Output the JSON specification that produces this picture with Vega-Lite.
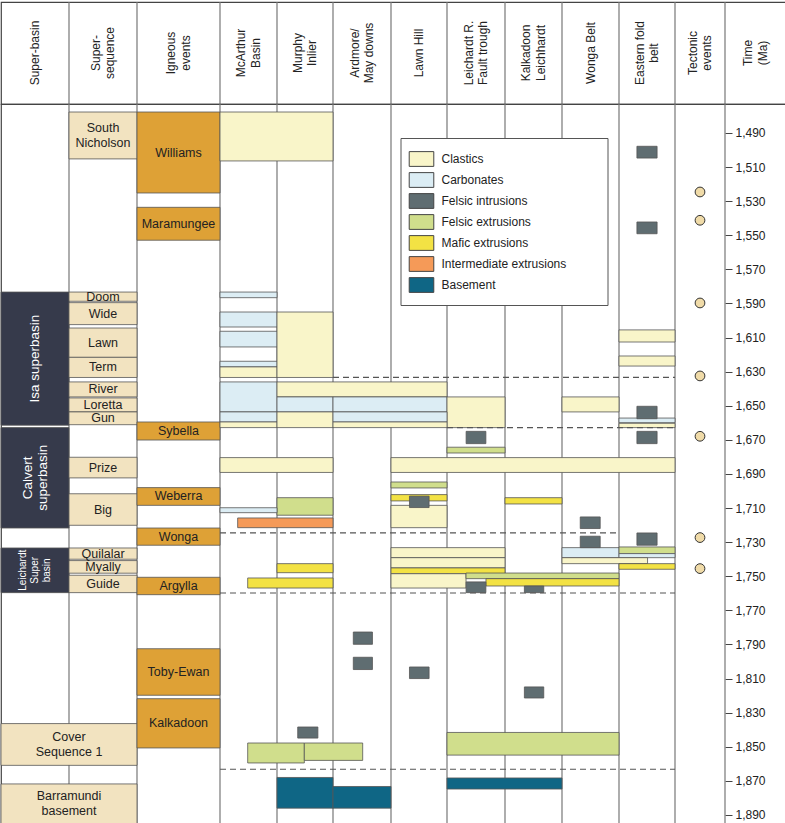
{
  "$schema": "https://vega.github.io/schema/vega-lite/v6.json",
  "padding": 0,
  "spacing": 0,
  "bounds": "flush",
  "config": {
    "font": "Liberation Sans",
    "view": {"stroke": "#444", "strokeWidth": 1.2},
    "text": {"font": "Liberation Sans"},
    "axisY": {"title": null}
  },
  "resolve": {"scale": {"color": "independent"}, "legend": {"color": "independent"}},
  "datasets": {
    "bounds": [{"c": 1}, {"c": 2}, {"c": 3}, {"c": 4}, {"c": 5}, {"c": 6}, {"c": 7}, {"c": 8}, {"c": 9}, {"c": 10}, {"c": 11}, {"c": 12}],
    "headers": [
      {"c": 0.5, "label": "Super-basin"},
      {"c": 1.5, "label": "Super-\nsequence"},
      {"c": 2.5, "label": "Igneous\nevents"},
      {"c": 3.5, "label": "McArthur\nBasin"},
      {"c": 4.5, "label": "Murphy\nInlier"},
      {"c": 5.5, "label": "Ardmore/\nMay downs"},
      {"c": 6.5, "label": "Lawn Hill"},
      {"c": 7.5, "label": "Leichardt R.\nFault trough"},
      {"c": 8.5, "label": "Kalkadoon\nLeichhardt"},
      {"c": 9.5, "label": "Wonga Belt"},
      {"c": 10.5, "label": "Eastern fold\nbelt"},
      {"c": 11.5, "label": "Tectonic\nevents"},
      {"c": 12.5, "label": "Time\n(Ma)"}
    ],
    "tect": [{"c": 11.5, "t": 1524.6}, {"c": 11.5, "t": 1541.2}, {"c": 11.5, "t": 1589.7}, {"c": 11.5, "t": 1632.5}, {"c": 11.5, "t": 1667.9}, {"c": 11.5, "t": 1727.3}, {"c": 11.5, "t": 1745.5}],
    "dashes": [
      {"t": 1633.4, "c0": 5, "c1": 11},
      {"t": 1662.8, "c0": 7, "c1": 11},
      {"t": 1724.6, "c0": 3, "c1": 10},
      {"t": 1759.8, "c0": 3, "c1": 11},
      {"t": 1863.2, "c0": 3, "c1": 11}
    ],
    "boxes": [
      {"type": "Super-basin", "c0": 0, "c1": 1, "t0": 1583.3, "t1": 1661.4, "label": "Isa superbasin"},
      {"type": "Super-basin", "c0": 0, "c1": 1, "t0": 1662.8, "t1": 1721.7, "label": "Calvert\nsuperbasin"},
      {"type": "Super-basin", "c0": 0, "c1": 1, "t0": 1733.4, "t1": 1759.6, "label": "Leichardt\nSuper\nbasin"},
      {"type": "Super-sequence", "c0": 1, "c1": 2, "t0": 1477.7, "t1": 1505.2, "label": "South\nNicholson"},
      {"type": "Super-sequence", "c0": 1, "c1": 2, "t0": 1583.3, "t1": 1588.7, "label": "Doom"},
      {"type": "Super-sequence", "c0": 1, "c1": 2, "t0": 1589.5, "t1": 1602.4, "label": "Wide"},
      {"type": "Super-sequence", "c0": 1, "c1": 2, "t0": 1604.4, "t1": 1621.6, "label": "Lawn"},
      {"type": "Super-sequence", "c0": 1, "c1": 2, "t0": 1621.6, "t1": 1633.4, "label": "Term"},
      {"type": "Super-sequence", "c0": 1, "c1": 2, "t0": 1636.0, "t1": 1644.8, "label": "River"},
      {"type": "Super-sequence", "c0": 1, "c1": 2, "t0": 1645.4, "t1": 1653.6, "label": "Loretta"},
      {"type": "Super-sequence", "c0": 1, "c1": 2, "t0": 1653.6, "t1": 1661.1, "label": "Gun"},
      {"type": "Super-sequence", "c0": 1, "c1": 2, "t0": 1680.2, "t1": 1692.3, "label": "Prize"},
      {"type": "Super-sequence", "c0": 1, "c1": 2, "t0": 1701.6, "t1": 1720.1, "label": "Big"},
      {"type": "Super-sequence", "c0": 1, "c1": 2, "t0": 1733.4, "t1": 1740.0, "label": "Quilalar"},
      {"type": "Super-sequence", "c0": 1, "c1": 2, "t0": 1740.8, "t1": 1748.2, "label": "Myally"},
      {"type": "Super-sequence", "c0": 1, "c1": 2, "t0": 1749.4, "t1": 1759.6, "label": "Guide"},
      {"type": "Super-sequence", "c0": 0, "c1": 2, "t0": 1836.4, "t1": 1860.9, "label": "Cover\nSequence 1"},
      {"type": "Super-sequence", "c0": 0, "c1": 2, "t0": 1871.8, "t1": 1895.3, "label": "Barramundi\nbasement"},
      {"type": "Igneous event", "c0": 2, "c1": 3, "t0": 1477.7, "t1": 1525.2, "label": "Williams"},
      {"type": "Igneous event", "c0": 2, "c1": 3, "t0": 1533.6, "t1": 1552.9, "label": "Maramungee"},
      {"type": "Igneous event", "c0": 2, "c1": 3, "t0": 1659.5, "t1": 1670.1, "label": "Sybella"},
      {"type": "Igneous event", "c0": 2, "c1": 3, "t0": 1698.0, "t1": 1708.4, "label": "Weberra"},
      {"type": "Igneous event", "c0": 2, "c1": 3, "t0": 1721.7, "t1": 1731.8, "label": "Wonga"},
      {"type": "Igneous event", "c0": 2, "c1": 3, "t0": 1750.6, "t1": 1760.8, "label": "Argylla"},
      {"type": "Igneous event", "c0": 2, "c1": 3, "t0": 1792.5, "t1": 1819.8, "label": "Toby-Ewan"},
      {"type": "Igneous event", "c0": 2, "c1": 3, "t0": 1821.8, "t1": 1850.7, "label": "Kalkadoon"},
      {"type": "Clastics", "c0": 3, "c1": 5, "t0": 1477.7, "t1": 1506.4},
      {"type": "Carbonates", "c0": 3, "c1": 4, "t0": 1583.3, "t1": 1586.6},
      {"type": "Carbonates", "c0": 3, "c1": 4, "t0": 1595.0, "t1": 1603.8},
      {"type": "Carbonates", "c0": 3, "c1": 4, "t0": 1606.3, "t1": 1615.5},
      {"type": "Carbonates", "c0": 3, "c1": 4, "t0": 1623.9, "t1": 1627.2},
      {"type": "Clastics", "c0": 3, "c1": 4, "t0": 1627.2, "t1": 1633.4},
      {"type": "Clastics", "c0": 4, "c1": 5, "t0": 1595.0, "t1": 1633.4},
      {"type": "Carbonates", "c0": 3, "c1": 4, "t0": 1636.0, "t1": 1653.6},
      {"type": "Clastics", "c0": 4, "c1": 7, "t0": 1636.0, "t1": 1644.8},
      {"type": "Carbonates", "c0": 4, "c1": 5, "t0": 1644.8, "t1": 1653.6},
      {"type": "Carbonates", "c0": 5, "c1": 7, "t0": 1644.8, "t1": 1653.6},
      {"type": "Clastics", "c0": 7, "c1": 8, "t0": 1644.8, "t1": 1662.8},
      {"type": "Clastics", "c0": 9, "c1": 10, "t0": 1644.8, "t1": 1653.6},
      {"type": "Carbonates", "c0": 3, "c1": 4, "t0": 1653.6, "t1": 1659.5},
      {"type": "Clastics", "c0": 3, "c1": 4, "t0": 1659.5, "t1": 1662.8},
      {"type": "Clastics", "c0": 4, "c1": 5, "t0": 1653.6, "t1": 1662.8},
      {"type": "Carbonates", "c0": 5, "c1": 7, "t0": 1653.6, "t1": 1659.5},
      {"type": "Clastics", "c0": 5, "c1": 7, "t0": 1659.5, "t1": 1662.8},
      {"type": "Clastics", "c0": 10, "c1": 11, "t0": 1605.5, "t1": 1612.6},
      {"type": "Clastics", "c0": 10, "c1": 11, "t0": 1620.8, "t1": 1626.7},
      {"type": "Carbonates", "c0": 10, "c1": 11, "t0": 1657.2, "t1": 1659.9},
      {"type": "Clastics", "c0": 10, "c1": 11, "t0": 1660.3, "t1": 1662.8},
      {"type": "Felsic extrusions", "c0": 7, "c1": 8, "t0": 1674.3, "t1": 1677.7},
      {"type": "Clastics", "c0": 3, "c1": 5, "t0": 1680.4, "t1": 1689.1},
      {"type": "Clastics", "c0": 6, "c1": 11, "t0": 1680.4, "t1": 1689.1},
      {"type": "Felsic extrusions", "c0": 6, "c1": 7, "t0": 1694.7, "t1": 1698.2},
      {"type": "Mafic extrusions", "c0": 6, "c1": 7, "t0": 1702.1, "t1": 1705.8},
      {"type": "Clastics", "c0": 6, "c1": 7, "t0": 1708.4, "t1": 1721.5},
      {"type": "Mafic extrusions", "c0": 8, "c1": 9, "t0": 1703.9, "t1": 1707.6},
      {"type": "Felsic extrusions", "c0": 4, "c1": 5, "t0": 1703.9, "t1": 1714.2},
      {"type": "Carbonates", "c0": 3, "c1": 4, "t0": 1709.8, "t1": 1712.7},
      {"type": "Intermediate extrusions", "c0": 3.31, "c1": 5, "t0": 1715.8, "t1": 1721.5},
      {"type": "Carbonates", "c0": 9, "c1": 10, "t0": 1733.2, "t1": 1739.1},
      {"type": "Felsic extrusions", "c0": 10, "c1": 11, "t0": 1732.8, "t1": 1736.7},
      {"type": "Carbonates", "c0": 10, "c1": 11, "t0": 1736.7, "t1": 1739.1},
      {"type": "Clastics", "c0": 6, "c1": 8, "t0": 1733.2, "t1": 1739.1},
      {"type": "Clastics", "c0": 6, "c1": 8, "t0": 1739.1, "t1": 1745.1},
      {"type": "Clastics", "c0": 9, "c1": 10.51, "t0": 1739.1, "t1": 1742.6},
      {"type": "Mafic extrusions", "c0": 4, "c1": 5, "t0": 1742.6, "t1": 1747.9},
      {"type": "Mafic extrusions", "c0": 10, "c1": 11, "t0": 1742.6, "t1": 1745.9},
      {"type": "Mafic extrusions", "c0": 6, "c1": 8, "t0": 1745.1, "t1": 1748.5},
      {"type": "Clastics", "c0": 6, "c1": 7.328, "t0": 1748.5, "t1": 1756.9},
      {"type": "Felsic extrusions", "c0": 7.328, "c1": 10, "t0": 1748.1, "t1": 1751.4},
      {"type": "Mafic extrusions", "c0": 7.672, "c1": 10, "t0": 1751.4, "t1": 1755.7},
      {"type": "Mafic extrusions", "c0": 3.486, "c1": 5, "t0": 1751.0, "t1": 1756.9},
      {"type": "Felsic extrusions", "c0": 3.486, "c1": 4.488, "t0": 1847.8, "t1": 1859.5},
      {"type": "Felsic extrusions", "c0": 4.488, "c1": 5.512, "t0": 1847.8, "t1": 1858.0},
      {"type": "Felsic extrusions", "c0": 7, "c1": 10, "t0": 1841.6, "t1": 1854.9},
      {"type": "Basement", "c0": 4, "c1": 5, "t0": 1868.0, "t1": 1886.0},
      {"type": "Basement", "c0": 5, "c1": 6, "t0": 1873.3, "t1": 1886.0},
      {"type": "Basement", "c0": 7, "c1": 9, "t0": 1868.3, "t1": 1874.8},
      {"type": "Felsic intrusions", "c0": 10.32, "c1": 10.68, "t0": 1497.8, "t1": 1504.7},
      {"type": "Felsic intrusions", "c0": 10.32, "c1": 10.68, "t0": 1542.2, "t1": 1549.1},
      {"type": "Felsic intrusions", "c0": 10.32, "c1": 10.68, "t0": 1650.3, "t1": 1657.6},
      {"type": "Felsic intrusions", "c0": 10.32, "c1": 10.68, "t0": 1665.0, "t1": 1672.2},
      {"type": "Felsic intrusions", "c0": 7.33, "c1": 7.67, "t0": 1665.0, "t1": 1672.2},
      {"type": "Felsic intrusions", "c0": 6.33, "c1": 6.68, "t0": 1703.0, "t1": 1709.7},
      {"type": "Felsic intrusions", "c0": 9.32, "c1": 9.67, "t0": 1715.2, "t1": 1722.0},
      {"type": "Felsic intrusions", "c0": 9.32, "c1": 9.67, "t0": 1726.5, "t1": 1733.2},
      {"type": "Felsic intrusions", "c0": 10.32, "c1": 10.68, "t0": 1724.6, "t1": 1731.8},
      {"type": "Felsic intrusions", "c0": 7.33, "c1": 7.67, "t0": 1753.3, "t1": 1759.6},
      {"type": "Felsic intrusions", "c0": 8.34, "c1": 8.68, "t0": 1755.7, "t1": 1759.6},
      {"type": "Felsic intrusions", "c0": 5.35, "c1": 5.68, "t0": 1782.7, "t1": 1789.9},
      {"type": "Felsic intrusions", "c0": 5.35, "c1": 5.68, "t0": 1797.5, "t1": 1804.7},
      {"type": "Felsic intrusions", "c0": 6.33, "c1": 6.68, "t0": 1803.2, "t1": 1810.0},
      {"type": "Felsic intrusions", "c0": 8.34, "c1": 8.68, "t0": 1814.9, "t1": 1821.4},
      {"type": "Felsic intrusions", "c0": 4.37, "c1": 4.73, "t0": 1838.4, "t1": 1844.9}
    ]
  },
  "vconcat": [
    {
      "width": 785,
      "height": 102,
      "layer": [
        {
          "data": {"name": "bounds"},
          "mark": {"type": "rule", "color": "#777", "strokeWidth": 1.2},
          "encoding": {
            "x": {"field": "c", "type": "quantitative", "axis": null,
              "scale": {"type": "linear", "domain": [0,1,2,3,4,5,6,7,8,9,10,11,12,13], "range": [0,68,136,219,276,332,390,446,504,561,618,674,724,785], "nice": false, "zero": false}}
          }
        },
        {
          "data": {"name": "headers"},
          "transform": [{"filter": "indexof(datum.label, '\\n') < 0"}],
          "mark": {"type": "text", "angle": 270, "fontSize": 12, "color": "#222", "align": "center", "baseline": "middle"},
          "encoding": {
            "x": {"field": "c", "type": "quantitative", "axis": null},
            "text": {"field": "label"}
          }
        },
        {
          "data": {"name": "headers"},
          "transform": [{"filter": "indexof(datum.label, '\\n') >= 0"}],
          "mark": {"type": "text", "angle": 270, "fontSize": 12, "lineBreak": "\n", "lineHeight": 14.5, "dy": -7.25, "color": "#222", "align": "center", "baseline": "middle"},
          "encoding": {
            "x": {"field": "c", "type": "quantitative", "axis": null},
            "text": {"field": "label"}
          }
        }
      ]
    },
    {
      "width": 785,
      "height": 720,
      "layer": [
        {
          "data": {"name": "bounds"},
          "mark": {"type": "rule", "color": "#777", "strokeWidth": 1.2},
          "encoding": {
            "x": {"field": "c", "type": "quantitative", "axis": null,
              "scale": {"type": "linear", "domain": [0,1,2,3,4,5,6,7,8,9,10,11,12,13], "range": [0,68,136,219,276,332,390,446,504,561,618,674,724,785], "nice": false, "zero": false}}
          }
        },
        {
          "data": {"name": "boxes"},
          "mark": {"type": "rect", "stroke": "#555", "strokeWidth": 0.8},
          "encoding": {
            "x": {"field": "c0", "type": "quantitative", "axis": null,
              "scale": {"type": "linear", "domain": [0,1,2,3,4,5,6,7,8,9,10,11,12,13], "range": [0,68,136,219,276,332,390,446,504,561,618,674,724,785], "nice": false, "zero": false}},
            "x2": {"field": "c1"},
            "y": {"field": "t0", "type": "quantitative",
              "scale": {"domain": [1473, 1895.3], "reverse": true, "nice": false, "zero": false},
              "axis": {"orient": "right", "offset": -61, "title": null, "grid": false, "domain": false, "values": [1490,1510,1530,1550,1570,1590,1610,1630,1650,1670,1690,1710,1730,1750,1770,1790,1810,1830,1850,1870,1890], "format": ",d", "tickSize": 7, "tickColor": "#444", "labelFontSize": 12, "labelColor": "#222", "labelPadding": 3, "labelFont": "Liberation Sans", "labelOverlap": false}},
            "y2": {"field": "t1"},
            "color": {"field": "type", "type": "nominal",
              "scale": {"domain": ["Clastics", "Carbonates", "Felsic intrusions", "Felsic extrusions", "Mafic extrusions", "Intermediate extrusions", "Basement", "Igneous event", "Super-sequence", "Super-basin"],
                "range": ["#f9f5c9", "#dcedf4", "#5f6d71", "#d0de8c", "#f3e244", "#f59a58", "#0f6685", "#dea136", "#f2e3c0", "#363a4b"]},
              "legend": {"orient": "none", "legendX": 399.5, "legendY": 34,
                "title": "\u00a0", "titleOrient": "right", "titlePadding": 31, "titleFontSize": 2,
                "values": ["Clastics", "Carbonates", "Felsic intrusions", "Felsic extrusions", "Mafic extrusions", "Intermediate extrusions", "Basement"],
                "symbolType": "M-1.2,-0.72H1.2V0.72H-1.2Z", "symbolSize": 420, "symbolStrokeColor": "#444", "symbolStrokeWidth": 1, "symbolOpacity": 1,
                "labelFontSize": 12, "labelColor": "#222", "labelOffset": 9, "rowPadding": 0, "padding": 10, "strokeColor": "#555", "fillColor": "white", "labelLimit": 400, "labelFont": "Liberation Sans"}}
          }
        },
        {
          "data": {"name": "dashes"},
          "mark": {"type": "rule", "color": "#555", "strokeWidth": 1.2, "strokeDash": [6, 4]},
          "encoding": {
            "x": {"field": "c0", "type": "quantitative", "axis": null},
            "x2": {"field": "c1"},
            "y": {"field": "t", "type": "quantitative",
              "axis": {"orient": "right", "offset": -61, "title": null, "grid": false, "domain": false, "values": [1490,1510,1530,1550,1570,1590,1610,1630,1650,1670,1690,1710,1730,1750,1770,1790,1810,1830,1850,1870,1890], "format": ",d", "tickSize": 7, "tickColor": "#444", "labelFontSize": 12, "labelColor": "#222", "labelPadding": 3, "labelFont": "Liberation Sans", "labelOverlap": false}}
          }
        },
        {
          "data": {"name": "boxes"},
          "transform": [
            {"filter": "(datum.type == 'Super-sequence' || datum.type == 'Igneous event') && indexof(datum.label, '\\n') < 0"},
            {"calculate": "(datum.c0 + datum.c1) / 2", "as": "cm"},
            {"calculate": "(datum.t0 + datum.t1) / 2", "as": "tm"}
          ],
          "mark": {"type": "text", "fontSize": 12.5, "color": "#222", "align": "center", "baseline": "middle"},
          "encoding": {
            "x": {"field": "cm", "type": "quantitative", "axis": null},
            "y": {"field": "tm", "type": "quantitative",
              "axis": {"orient": "right", "offset": -61, "title": null, "grid": false, "domain": false, "values": [1490,1510,1530,1550,1570,1590,1610,1630,1650,1670,1690,1710,1730,1750,1770,1790,1810,1830,1850,1870,1890], "format": ",d", "tickSize": 7, "tickColor": "#444", "labelFontSize": 12, "labelColor": "#222", "labelPadding": 3, "labelFont": "Liberation Sans", "labelOverlap": false}},
            "text": {"field": "label"}
          }
        },
        {
          "data": {"name": "boxes"},
          "transform": [
            {"filter": "(datum.type == 'Super-sequence' || datum.type == 'Igneous event') && indexof(datum.label, '\\n') >= 0"},
            {"calculate": "(datum.c0 + datum.c1) / 2", "as": "cm"},
            {"calculate": "(datum.t0 + datum.t1) / 2", "as": "tm"}
          ],
          "mark": {"type": "text", "fontSize": 12.5, "lineBreak": "\n", "lineHeight": 15, "dy": -7.5, "color": "#222", "align": "center", "baseline": "middle"},
          "encoding": {
            "x": {"field": "cm", "type": "quantitative", "axis": null},
            "y": {"field": "tm", "type": "quantitative",
              "axis": {"orient": "right", "offset": -61, "title": null, "grid": false, "domain": false, "values": [1490,1510,1530,1550,1570,1590,1610,1630,1650,1670,1690,1710,1730,1750,1770,1790,1810,1830,1850,1870,1890], "format": ",d", "tickSize": 7, "tickColor": "#444", "labelFontSize": 12, "labelColor": "#222", "labelPadding": 3, "labelFont": "Liberation Sans", "labelOverlap": false}},
            "text": {"field": "label"}
          }
        },
        {
          "data": {"name": "boxes"},
          "transform": [
            {"filter": "datum.type == 'Super-basin' && indexof(datum.label, '\\n') < 0"},
            {"calculate": "(datum.c0 + datum.c1) / 2", "as": "cm"},
            {"calculate": "(datum.t0 + datum.t1) / 2", "as": "tm"}
          ],
          "mark": {"type": "text", "fontSize": 13.5, "angle": 270, "color": "white", "align": "center", "baseline": "middle"},
          "encoding": {
            "x": {"field": "cm", "type": "quantitative", "axis": null},
            "y": {"field": "tm", "type": "quantitative",
              "axis": {"orient": "right", "offset": -61, "title": null, "grid": false, "domain": false, "values": [1490,1510,1530,1550,1570,1590,1610,1630,1650,1670,1690,1710,1730,1750,1770,1790,1810,1830,1850,1870,1890], "format": ",d", "tickSize": 7, "tickColor": "#444", "labelFontSize": 12, "labelColor": "#222", "labelPadding": 3, "labelFont": "Liberation Sans", "labelOverlap": false}},
            "text": {"field": "label"}
          }
        },
        {
          "data": {"name": "boxes"},
          "transform": [
            {"filter": "datum.type == 'Super-basin' && indexof(datum.label, '\\n') >= 0 && datum.t0 < 1700"},
            {"calculate": "(datum.c0 + datum.c1) / 2", "as": "cm"},
            {"calculate": "(datum.t0 + datum.t1) / 2", "as": "tm"}
          ],
          "mark": {"type": "text", "fontSize": 13.5, "angle": 270, "lineBreak": "\n", "lineHeight": 15, "dy": -7.5, "color": "white", "align": "center", "baseline": "middle"},
          "encoding": {
            "x": {"field": "cm", "type": "quantitative", "axis": null},
            "y": {"field": "tm", "type": "quantitative",
              "axis": {"orient": "right", "offset": -61, "title": null, "grid": false, "domain": false, "values": [1490,1510,1530,1550,1570,1590,1610,1630,1650,1670,1690,1710,1730,1750,1770,1790,1810,1830,1850,1870,1890], "format": ",d", "tickSize": 7, "tickColor": "#444", "labelFontSize": 12, "labelColor": "#222", "labelPadding": 3, "labelFont": "Liberation Sans", "labelOverlap": false}},
            "text": {"field": "label"}
          }
        },
        {
          "data": {"name": "boxes"},
          "transform": [
            {"filter": "datum.type == 'Super-basin' && datum.t0 > 1700"},
            {"calculate": "(datum.c0 + datum.c1) / 2", "as": "cm"},
            {"calculate": "(datum.t0 + datum.t1) / 2", "as": "tm"}
          ],
          "mark": {"type": "text", "fontSize": 10, "angle": 270, "lineBreak": "\n", "lineHeight": 12, "dy": -12, "color": "white", "align": "center", "baseline": "middle"},
          "encoding": {
            "x": {"field": "cm", "type": "quantitative", "axis": null},
            "y": {"field": "tm", "type": "quantitative",
              "axis": {"orient": "right", "offset": -61, "title": null, "grid": false, "domain": false, "values": [1490,1510,1530,1550,1570,1590,1610,1630,1650,1670,1690,1710,1730,1750,1770,1790,1810,1830,1850,1870,1890], "format": ",d", "tickSize": 7, "tickColor": "#444", "labelFontSize": 12, "labelColor": "#222", "labelPadding": 3, "labelFont": "Liberation Sans", "labelOverlap": false}},
            "text": {"field": "label"}
          }
        },
        {
          "data": {"name": "tect"},
          "mark": {"type": "point", "shape": "circle", "filled": true, "fill": "#f0dba8", "stroke": "#333", "strokeWidth": 1, "size": 95, "opacity": 1},
          "encoding": {
            "x": {"field": "c", "type": "quantitative", "axis": null},
            "y": {"field": "t", "type": "quantitative",
              "axis": {"orient": "right", "offset": -61, "title": null, "grid": false, "domain": false, "values": [1490,1510,1530,1550,1570,1590,1610,1630,1650,1670,1690,1710,1730,1750,1770,1790,1810,1830,1850,1870,1890], "format": ",d", "tickSize": 7, "tickColor": "#444", "labelFontSize": 12, "labelColor": "#222", "labelPadding": 3, "labelFont": "Liberation Sans", "labelOverlap": false}}
          }
        }
      ]
    }
  ]
}
